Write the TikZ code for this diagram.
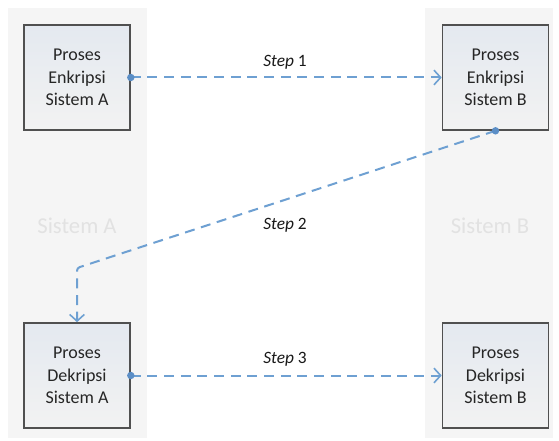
\documentclass[tikz,border=0pt]{standalone}
\usepackage{fontspec}
\setmainfont{Carlito}
\usetikzlibrary{arrows.meta}
\definecolor{lanefill}{HTML}{F5F5F5}
\definecolor{lanetext}{HTML}{E2E2E2}
\definecolor{flow}{HTML}{6EA0D2}
\definecolor{flowdot}{HTML}{5B8EC6}
\definecolor{boxline}{HTML}{505050}
\definecolor{boxtop}{HTML}{E4E9F0}
\definecolor{boxbot}{HTML}{F2F2F2}
\begin{document}
\begin{tikzpicture}[x=0.75pt,y=-0.75pt,
  lane/.style={fill=lanefill, draw=none},
  lanelabel/.style={text=lanetext, font=\fontsize{17}{20}\selectfont},
  procbox/.style={draw=boxline, line width=1.2pt, top color=boxtop, bottom color=boxbot,
    minimum width=79.5pt, minimum height=78.75pt, inner sep=0pt, align=center,
    text=black!85, font=\fontsize{13.5}{17}\selectfont},
  flowline/.style={draw=flow, line width=1.5pt, dash pattern=on 7.5pt off 5pt,
    -{Straight Barb[length=5pt,width=11pt,line width=1.2pt]}},
  startdot/.style={fill=flowdot},
  steplabel/.style={text=black!90, font=\fontsize{13}{15}\selectfont}
]
\useasboundingbox (0,0) rectangle (559,441);
\fill[white] (0,0) rectangle (559,441);
% lanes
\fill[lane] (8,8) rectangle (147,438);
\fill[lane] (425,8) rectangle (553,438);
\node[lanelabel] (la) at (77,226) {Sistem A};
\node[lanelabel] (lb) at (490,226) {Sistem B};
% boxes
\node[procbox] (a1) at (77,77.5) {Proses\\Enkripsi\\Sistem A};
\node[procbox] (b1) at (495.5,77.5) {Proses\\Enkripsi\\Sistem B};
\node[procbox] (a2) at (77,375.5) {Proses\\Dekripsi\\Sistem A};
\node[procbox] (b2) at (495.5,375.5) {Proses\\Dekripsi\\Sistem B};
% connectors
\coordinate (c2) at (77,268);
\draw[flowline] (a1.east) -- (b1.west);
\draw[flowline, rounded corners=2pt] (b1.south) -- (c2) -- (a2.north);
\draw[flowline] (a2.east) -- (b2.west);
\fill[startdot] (a1.east) circle (2.8pt);
\fill[startdot] (b1.south) circle (2.8pt);
\fill[startdot] (a2.east) circle (2.8pt);
% labels
\node[steplabel] (s1) at (285,62) {\textit{Step} 1};
\node[steplabel] (s2) at (285,225) {\textit{Step} 2};
\node[steplabel] (s3) at (285,359) {\textit{Step} 3};
\end{tikzpicture}
\end{document}
